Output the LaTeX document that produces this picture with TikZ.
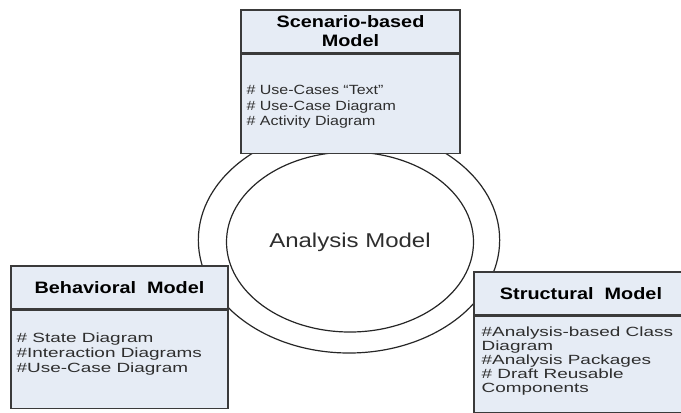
\documentclass[tikz,border=0pt]{standalone}
\usepackage{fontspec}
\setmainfont{Liberation Sans}
\newfontfamily\hdrfont{Liberation Sans}[FakeStretch=1.2]
\newfontfamily\itemfont{Liberation Sans}[FakeStretch=1.2]
\newfontfamily\wideitemfont{Liberation Sans}[FakeStretch=1.42]
\usetikzlibrary{positioning, shapes.geometric}
\definecolor{amFill}{HTML}{E6ECF5}
\definecolor{amLine}{HTML}{3A3A3A}
\definecolor{amText}{HTML}{2E2E2E}

\begin{document}
\begin{tikzpicture}[
      x=0.75pt, y=-0.75pt,
      hdr/.style={draw=amLine, line width=1pt, fill=amFill, inner sep=0pt,
                  minimum height=32.25pt, align=center,
                  font=\hdrfont\bfseries\fontsize{12.4}{14.25}\selectfont},
      body/.style={draw=amLine, line width=1pt, fill=amFill, inner sep=0pt},
      items/.style={anchor=west, inner sep=0pt, align=left, text=amText},
      ring/.style={ellipse, draw=black!85, line width=0.9pt, inner sep=0pt}
    ]
    \useasboundingbox (0,0) rectangle (681,412);

    % --- the two rings in the middle ---
    \node[ring, minimum width=226pt, minimum height=169.5pt] (outer) at (349,240) {};
    \node[ring, minimum width=185.25pt, minimum height=135pt, text=amText,
          font=\hdrfont\fontsize{15}{18}\selectfont] (analysis) at (350,242) {Analysis Model};

    % --- Scenario-based model (top) ---
    \node[hdr, minimum width=164.25pt] (scenHdr) at (350.5,31.5) {Scenario-based\\Model};
    \node[body, below=0pt of scenHdr, minimum width=164.25pt, minimum height=74.25pt] (scenBody) {};
    \node[items, font=\itemfont\fontsize{10}{11.5}\selectfont]
         (scenItems) at ([xshift=4.5pt, yshift=-2.4pt]scenBody.west)
         {\# Use-Cases “Text”\\\# Use-Case Diagram\\\# Activity Diagram};

    % --- Behavioral model (left) ---
    \node[hdr, minimum width=162.75pt] (behHdr) at (119.5,287.5) {Behavioral\ \ Model};
    \node[body, below=0pt of behHdr, minimum width=162.75pt, minimum height=73.5pt] (behBody) {};
    \node[items, font=\wideitemfont\fontsize{10}{11.25}\selectfont]
         (behItems) at ([xshift=4.5pt, yshift=3.6pt]behBody.west)
         {\# State Diagram\\\#Interaction Diagrams\\\#Use-Case Diagram};

    % --- Structural model (right, runs off the edge) ---
    \node[hdr, minimum width=160.5pt] (strHdr) at (581,293.5) {Structural\ \ Model};
    \node[body, below=0pt of strHdr, minimum width=160.5pt, minimum height=72pt] (strBody) {};
    \node[items, font=\wideitemfont\fontsize{10}{10.5}\selectfont]
         (strItems) at ([xshift=6pt, yshift=2.2pt]strBody.west)
         {\#Analysis-based Class\\Diagram\\\#Analysis Packages\\\# Draft Reusable\\Components};
  \end{tikzpicture}
\end{document}
